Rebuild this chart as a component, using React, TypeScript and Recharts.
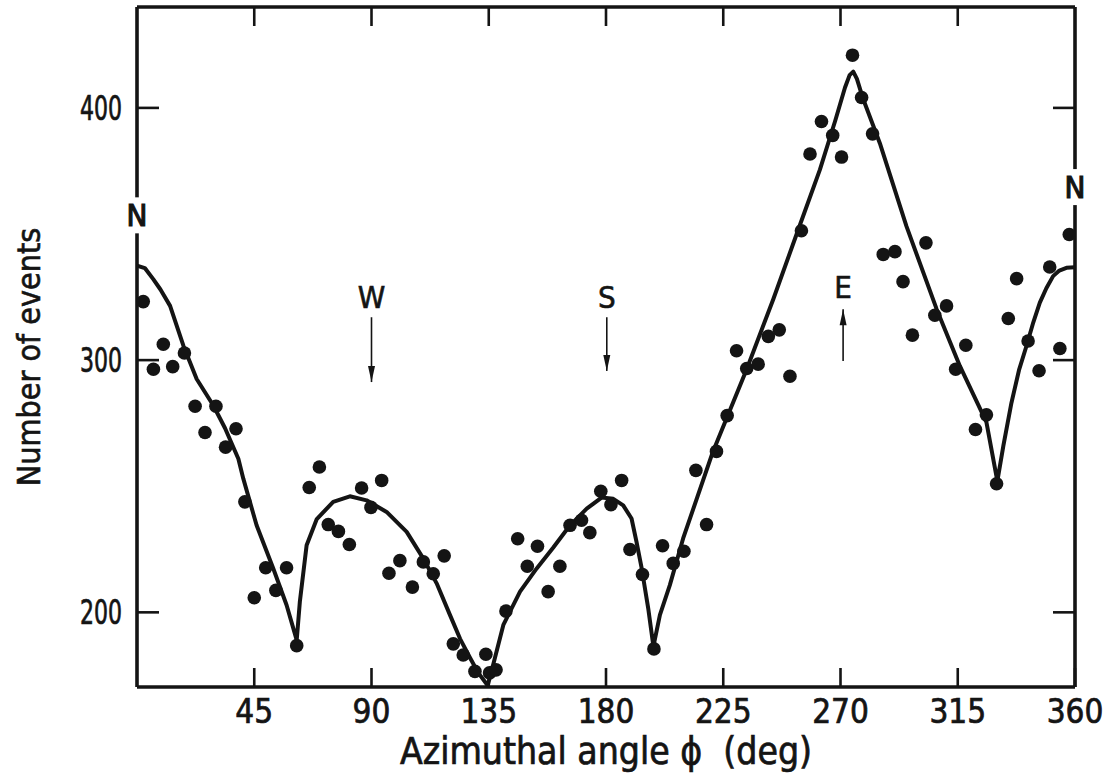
import React from 'react';
import { ComposedChart, Line, Scatter, XAxis, YAxis, ReferenceDot, ReferenceLine, Label } from 'recharts';

// Theoretical curve (azimuth in degrees, number of events)
const curveAngles = [0, 3, 6.3, 9, 12.7, 17.8, 22.9, 29.3, 33.8, 38.9, 40.8, 45.9, 52.3, 57.4, 61.3,
  62.5, 65.1, 69, 75.3, 81.7, 88.1, 95.8, 103.5, 109.9, 115, 120.1, 124, 127.8, 131, 134.6,
  136.7, 140.6, 147, 153.4, 159.7, 166.2, 172.6, 178.3, 182.8, 186.6, 189.8, 191.7, 193.7, 196.2, 198.2,
  200.7, 204.5, 209.6, 221, 234, 244.2, 253.8, 262.1, 268, 271.7, 273.5, 274.9, 276.3, 278.7, 285.1, 295.3,
  306.9, 315.8, 326, 330.2,
  332.5, 335.6, 338.5, 341.4, 344, 346.5, 349, 351.6, 354, 356.7, 360];
const curveCounts = [337.5, 336.5, 332, 328, 321.5, 305.7, 292.5, 282, 273, 260.9, 253, 234.5, 217.4, 202.9, 189,
  204.2, 226.6, 237, 243.8, 246, 244.4, 239.8, 231.9, 221.3, 211.5, 199, 189.5, 182, 176, 171,
  179.2, 195, 208.2, 217.4, 225.6, 234.5, 241.1, 245.5, 245, 242.4, 237.2, 228, 217.4, 201.6, 186.5,
  199, 210.8, 229.3, 263.6, 296.4, 324.1, 351.8, 375.5, 395, 408, 413, 414.4, 411.5, 403.5, 386, 353.1,
  320.2, 297.7, 275.4, 252,
  266, 283, 296, 305.7, 315, 322.8, 328.5, 333.3, 335.5, 336.6, 336.8];

// Measured points
const pointAngles = [2.4, 6.3, 10.1, 13.7, 18.2, 22.3, 26.1, 30.3, 34, 38, 41.4, 45, 49.4, 53.3, 57.4, 61.3,
  66.1, 70, 73.4, 77.3, 81.5, 86.2, 89.8, 93.9, 96.7, 100.9, 105.7, 109.9, 113.7, 117.9,
  121.4, 125.2, 129.7, 133.9, 135.3, 137.8, 141.6, 146.1, 149.8, 153.7, 157.8, 162.3, 166.2, 170.6, 173.8,
  178, 181.9, 186, 189.2, 194, 198.4, 201.7, 205.8, 209.9, 214.5, 218.6, 222.4, 226.5, 230.1, 234, 238.4,
  242.3, 246.5, 250.6, 255, 258.3, 262.7, 267, 270.4, 274.6, 278.1, 282.3, 286.4, 290.9, 294, 297.6,
  302.8, 306.2, 310.7, 314.2, 318.1, 321.8, 326, 329.9, 334.4, 337.6, 342, 346.2, 350.3, 354.2, 357.8];
const pointCounts = [323.2, 296.4, 306.3, 297.4, 302.8, 281.7, 271.3, 281.7, 265.5, 272.8, 243.8, 205.8, 217.7, 208.7, 217.7, 186.8,
  249.5, 257.6, 234.8, 232.1, 226.9, 249.3, 241.6, 252.3, 215.5, 220.5, 210, 220, 215.3, 222.4,
  187.5, 183.1, 176.6, 183.4, 176, 177.2, 200.5, 229.2, 218.3, 226.2, 208.2, 218.3, 234.5, 236.5, 231.6,
  248, 242.7, 252.3, 224.9, 215, 185.5, 226.4, 219.4, 224.2, 256.3, 234.8, 263.8, 278, 303.7, 296.7, 298.4,
  309.4, 312, 293.6, 351.3, 381.7, 394.6, 389.1, 380.5, 420.9, 404.1, 389.7, 341.9, 343, 331.1, 309.9,
  346.5, 317.8, 321.5, 296.4, 305.9, 272.5, 278.3, 251, 316.5, 332.3, 307.6, 295.8, 336.9, 304.6, 349.8];

const xTicks = [45, 90, 135, 180, 225, 270, 315, 360];
const topTicks = [45, 90, 135, 180, 225, 270, 315];
const yTicks = [200, 300, 400];

// Compass labels: letter, azimuth, height of the letter
const compassLetters = ['N', 'W', 'S', 'E', 'N'];
const compassAngles = [0, 90, 180.3, 271, 360];
const compassCounts = [357.4, 324.9, 324.9, 328.9, 368.6];
// Arrows: azimuth, tail value, tip value
const arrowAngles = [90, 180.3, 271];
const arrowTails = [317, 317, 299.6];
const arrowTips = [291.3, 295.7, 320.2];

const X_DOMAIN = [0, 360];
const Y_DOMAIN = [170.4, 440];

const curveData = curveAngles.map((a, i) => ({ angle: a, count: curveCounts[i] }));
const pointData = pointAngles.map((a, i) => ({ angle: a, count: pointCounts[i] }));

// layout
const CHART_W = 1118;
const CHART_H = 778;
const M_TOP = 6;
const M_RIGHT = 42;
const LEFT_W = 137;
const BOTTOM_H = 91;
const PLOT_W = CHART_W - M_RIGHT - 1 - LEFT_W;
const PLOT_H = CHART_H - BOTTOM_H - M_TOP - 1;
const TICK_V = 19;
const TICK_H = 22;
// tick lengths expressed in axis units so the marks go through the library scales
const TICK_V_UNITS = TICK_V * (Y_DOMAIN[1] - Y_DOMAIN[0]) / PLOT_H;
const TICK_H_UNITS = TICK_H * (X_DOMAIN[1] - X_DOMAIN[0]) / PLOT_W;

const FONT = "'DejaVu Sans Condensed', 'DejaVu Sans', sans-serif";
const INK = '#141414';
const TICK_STYLE = { stroke: INK, strokeWidth: 2.6 };
const AXIS_STYLE = { stroke: INK, strokeWidth: 3.6 };

const BottomTick = (props: any) => {
  const { x, y, payload } = props;
  return (
    <text x={x} y={y + 36} textAnchor="middle" fontSize={33} fontFamily={FONT} fill={INK} stroke={INK} strokeWidth={0.7}>{payload.value}</text>
  );
};
const LeftTick = (props: any) => {
  const { x, y, payload } = props;
  return (
    <text x={x - 15} y={y} dy="0.36em" textAnchor="end" fontSize={33} fontFamily={FONT} fill={INK} stroke={INK} strokeWidth={0.7}
      textLength={42} lengthAdjust="spacingAndGlyphs">{payload.value}</text>
  );
};
const NoLabel = () => <g />;

const Dot = (props: any) => {
  const { cx, cy } = props;
  return <circle cx={cx} cy={cy} r={6.8} fill={INK} />;
};
const Hidden = () => <g />;

const letterShape = (letter: string, edge: boolean) => (props: any) => {
  const { cx, cy } = props;
  return (
    <g>
      {edge && <rect x={cx - 14} y={cy - 18} width={28} height={36} fill="#fff" />}
      <text x={cx} y={cy} dy="0.36em" textAnchor="middle" fontSize={31} fontFamily={FONT} fill={INK} stroke={INK} strokeWidth={edge ? 1.2 : 0.6}>{letter}</text>
    </g>
  );
};

const arrowHead = (up: boolean) => (props: any) => {
  const { cx, cy } = props;
  const d = up
    ? `M${cx},${cy} L${cx - 3.5},${cy + 16} L${cx + 3.5},${cy + 16} Z`
    : `M${cx},${cy} L${cx - 3.5},${cy - 16} L${cx + 3.5},${cy - 16} Z`;
  return <path d={d} fill={INK} />;
};

export default function App() {
  return (
    <div style={{ position: 'absolute', left: 0, top: 0, width: CHART_W, height: CHART_H, background: '#fff' }}>
      <ComposedChart width={CHART_W} height={CHART_H} margin={{ top: M_TOP, right: M_RIGHT, bottom: 0, left: 0 }}>
        <XAxis xAxisId="b" dataKey="angle" type="number" domain={X_DOMAIN} ticks={xTicks} allowDataOverflow
          height={BOTTOM_H} tickSize={0} tickMargin={0} tickLine={false} tick={<BottomTick />}
          axisLine={AXIS_STYLE} interval={0}>
          <Label content={(p: any) => {
            const vb = p.viewBox;
            return (
              <text x={vb.x + vb.width / 2} y={vb.y + 77} textAnchor="middle" fontSize={37} fontFamily={FONT} fill={INK} stroke={INK} strokeWidth={0.7} style={{ whiteSpace: 'pre' }}>
                {'Azimuthal angle \u03D5  (deg)'}
              </text>
            );
          }} />
        </XAxis>
        <XAxis xAxisId="t" orientation="top" dataKey="angle" type="number" domain={X_DOMAIN} ticks={topTicks} allowDataOverflow
          height={1} tickSize={-TICK_V} tickMargin={0} tickLine={TICK_STYLE} tick={<NoLabel />}
          axisLine={AXIS_STYLE} interval={0} />
        <YAxis yAxisId="l" type="number" domain={Y_DOMAIN} ticks={yTicks} allowDataOverflow width={LEFT_W}
          tickSize={0} tickMargin={0} tickLine={false} tick={<LeftTick />}
          axisLine={AXIS_STYLE} interval={0}>
          <Label content={() => (
            <text x={28} y={357} transform={`rotate(-90 28 357)`} textAnchor="middle" dy="0.36em" fontSize={32} fontFamily={FONT} fill={INK} stroke={INK} strokeWidth={0.6}>
              Number of events
            </text>
          )} />
        </YAxis>
        <YAxis yAxisId="r" orientation="right" type="number" domain={Y_DOMAIN} ticks={yTicks} allowDataOverflow width={1}
          tickSize={-TICK_H} tickMargin={0} tickLine={TICK_STYLE} tick={<NoLabel />}
          axisLine={AXIS_STYLE} interval={0} />

        <Scatter xAxisId="t" yAxisId="r" data={pointData} dataKey="count" shape={<Hidden />} isAnimationActive={false} />
        <Line xAxisId="b" yAxisId="l" data={curveData} dataKey="count" type="linear" stroke={INK} strokeWidth={4}
          dot={false} isAnimationActive={false} strokeLinejoin="round" />
        <Scatter xAxisId="b" yAxisId="l" data={pointData} dataKey="count" shape={<Dot />} isAnimationActive={false} />

        {xTicks.map((t) => (
          <ReferenceLine key={'bt' + t} xAxisId="b" yAxisId="l" ifOverflow="visible" stroke={INK} strokeWidth={2.6}
            segment={[{ x: t, y: Y_DOMAIN[0] }, { x: t, y: Y_DOMAIN[0] + TICK_V_UNITS }]} />
        ))}
        {yTicks.map((t) => (
          <ReferenceLine key={'lt' + t} xAxisId="b" yAxisId="l" ifOverflow="visible" stroke={INK} strokeWidth={2.6}
            segment={[{ x: X_DOMAIN[0], y: t }, { x: X_DOMAIN[0] + TICK_H_UNITS, y: t }]} />
        ))}
        {arrowAngles.map((a, i) => (
          <ReferenceLine key={'al' + i} xAxisId="b" yAxisId="l" segment={[{ x: a, y: arrowTails[i] }, { x: a, y: arrowTips[i] }]}
            stroke={INK} strokeWidth={1.6} ifOverflow="visible" />
        ))}
        {arrowAngles.map((a, i) => (
          <ReferenceDot key={'ah' + i} xAxisId="b" yAxisId="l" x={a} y={arrowTips[i]} ifOverflow="visible"
            shape={arrowHead(arrowTips[i] > arrowTails[i])} />
        ))}
        {compassLetters.map((l, i) => (
          <ReferenceDot key={'c' + i} xAxisId="b" yAxisId="l" x={compassAngles[i]} y={compassCounts[i]} ifOverflow="visible"
            shape={letterShape(l, compassAngles[i] === 0 || compassAngles[i] === 360)} />
        ))}
      </ComposedChart>
    </div>
  );
}
